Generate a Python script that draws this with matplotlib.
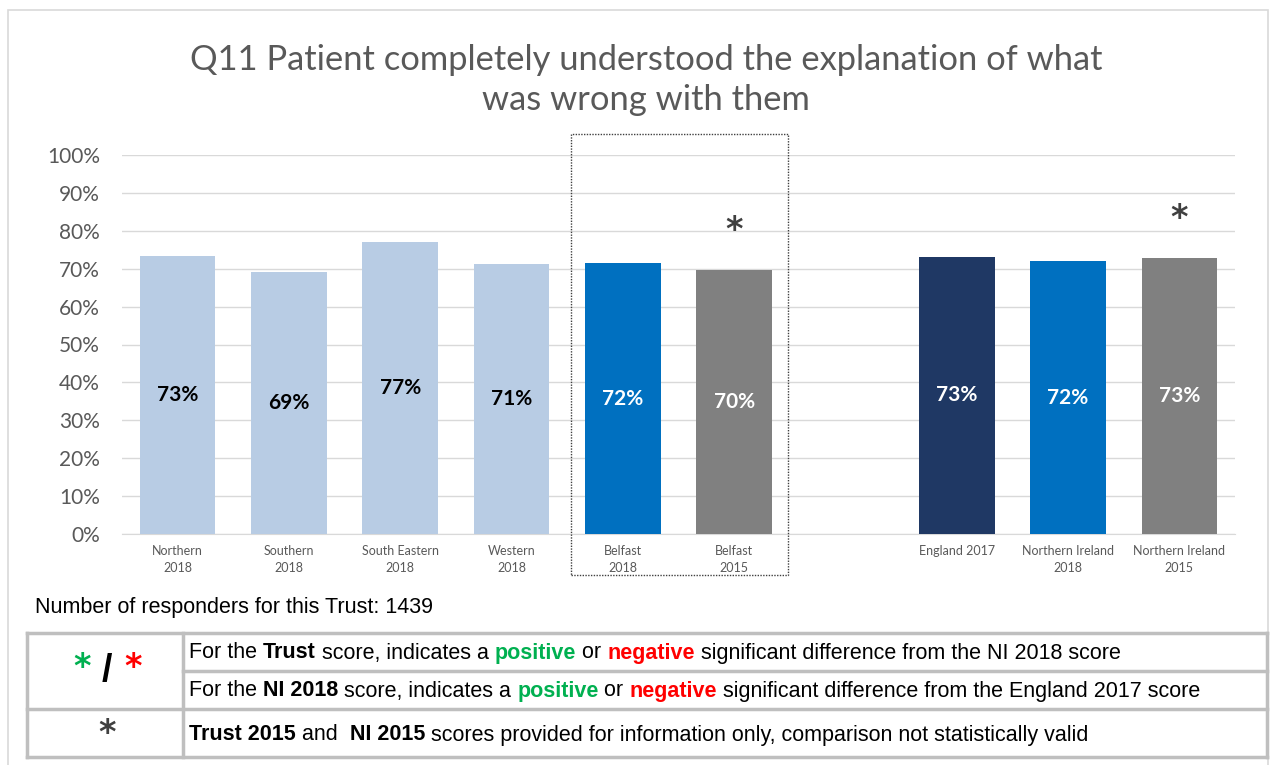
import numpy as np
import matplotlib
matplotlib.use('Agg')
import matplotlib.pyplot as plt
from matplotlib.patches import Rectangle
from matplotlib.lines import Line2D

W, H = 1270, 765

# chart data
categories = ['Northern\n2018', 'Southern\n2018', 'South Eastern\n2018', 'Western\n2018',
              'Belfast\n2018', 'Belfast\n2015', '', 'England 2017',
              'Northern Ireland\n2018', 'Northern Ireland\n2015']
values = [73.4, 69.1, 77.0, 71.2, 71.5, 69.7, np.nan, 73.1, 72.0, 72.8]
value_labels = ['73%', '69%', '77%', '71%', '72%', '70%', '', '73%', '72%', '73%']
starred = ['Belfast\n2015', 'Northern Ireland\n2015']
responders = 1439

bar_colors = ['#B8CCE4'] * 4 + ['#0070C0', '#808080', '#FFFFFF', '#1F3864', '#0070C0', '#808080']
label_colors = ['black'] * 4 + ['white'] * 6

TITLE_FONT = 'Lato'
TABLE_FONT = 'Liberation Sans'


def fx(px):
    return px / W


def fy(py):
    return 1 - py / H


fig = plt.figure(figsize=(W / 100, H / 100), dpi=100)

# outer chart border
fig.add_artist(Rectangle((fx(8), fy(766)), fx(1260), 756 / H, fill=False,
                         edgecolor='#D9D9D9', linewidth=1.2, transform=fig.transFigure))

ax = fig.add_axes([fx(122), fy(534), fx(1113), 379 / H])
x = np.arange(len(categories))
ax.bar(x, values, width=0.68, color=bar_colors, zorder=3)

for i, (v, lab) in enumerate(zip(values, value_labels)):
    if lab:
        ax.text(i, v / 2, lab, ha='center', va='center', fontsize=15, fontweight='bold',
                color=label_colors[i], family=TITLE_FONT, zorder=4)

for name in starred:
    i = categories.index(name)
    ax.text(i, values[i] + 10.5, '*', ha='center', va='center', fontsize=24, fontweight='bold',
            color='#404040', family='DejaVu Sans')

ax.set_xlim(-0.5, len(categories) - 0.5)
ax.set_ylim(0, 100)
ax.set_yticks(np.arange(0, 101, 10))
ax.set_yticklabels([f'{t}%' for t in range(0, 101, 10)], family=TITLE_FONT,
                   fontsize=15, color='#595959')
ax.set_xticks(x)
ax.set_xticklabels(categories, family=TITLE_FONT, fontsize=9, color='#595959',
                   linespacing=1.45)
ax.tick_params(axis='both', length=0)
ax.tick_params(axis='y', pad=16)
ax.tick_params(axis='x', pad=8)
ax.grid(axis='y', color='#D9D9D9', linewidth=1, zorder=0)
for s in ['top', 'right', 'left']:
    ax.spines[s].set_visible(False)
ax.spines['bottom'].set_color('#D9D9D9')

# dotted box round the Belfast bars
ax.add_patch(Rectangle((3.53, -10.8), 1.95, 116.3, fill=False, linestyle=(0, (1, 1)),
                       edgecolor='#404040', linewidth=1, clip_on=False, zorder=5))

fig.text(fx(646), fy(80), 'Q11 Patient completely understood the explanation of what\nwas wrong with them',
         ha='center', va='center', fontsize=24.8, color='#595959', family=TITLE_FONT,
         linespacing=1.32)

fig.text(fx(35), fy(607), f'Number of responders for this Trust: {responders}', ha='left', va='center',
         fontsize=15.5, family=TABLE_FONT, color='black')

# key table
grey = '#BFBFBF'
for y0 in [633, 709, 757]:
    fig.add_artist(Line2D([fx(27), fx(1267)], [fy(y0), fy(y0)], color=grey, linewidth=2.5))
fig.add_artist(Line2D([fx(183), fx(1267)], [fy(671), fy(671)], color=grey, linewidth=2.5))
for x0 in [27, 183, 1267]:
    fig.add_artist(Line2D([fx(x0), fx(x0)], [fy(633), fy(757)], color=grey, linewidth=2.5))

renderer = fig.canvas.get_renderer()


def draw_runs(x_px, y_px, runs, size=15.5):
    xf = fx(x_px)
    for text, weight, color in runs:
        t = fig.text(xf, fy(y_px), text, ha='left', va='center', fontsize=size,
                     fontweight=weight, color=color, family=TABLE_FONT)
        bb = t.get_window_extent(renderer)
        xf = bb.x1 / W


green = '#00B050'
red = '#FF0000'
draw_runs(189, 653, [('For the ', 'normal', 'black'), ('Trust', 'bold', 'black'),
                     (' score, indicates a ', 'normal', 'black'), ('positive', 'bold', green),
                     (' or ', 'normal', 'black'), ('negative', 'bold', red),
                     (' significant difference from the NI 2018 score', 'normal', 'black')])
draw_runs(189, 691, [('For the ', 'normal', 'black'), ('NI 2018', 'bold', 'black'),
                     (' score, indicates a ', 'normal', 'black'), ('positive', 'bold', green),
                     (' or ', 'normal', 'black'), ('negative', 'bold', red),
                     (' significant difference from the England 2017 score', 'normal', 'black')])
draw_runs(189, 735, [('Trust 2015', 'bold', 'black'), (' and  ', 'normal', 'black'),
                     ('NI 2015', 'bold', 'black'),
                     (' scores provided for information only, comparison not statistically valid',
                      'normal', 'black')])

fig.text(fx(82), fy(668), '*', ha='center', va='center', fontsize=24, fontweight='bold',
         color=green, family='DejaVu Sans')
fig.text(fx(107), fy(671), '/', ha='center', va='center', fontsize=27, fontweight='bold',
         color='black', family=TABLE_FONT)
fig.text(fx(133), fy(668), '*', ha='center', va='center', fontsize=24, fontweight='bold',
         color=red, family='DejaVu Sans')
fig.text(fx(107), fy(734), '*', ha='center', va='center', fontsize=24, fontweight='bold',
         color='#404040', family='DejaVu Sans')

fig.savefig('out.png', dpi=100)
